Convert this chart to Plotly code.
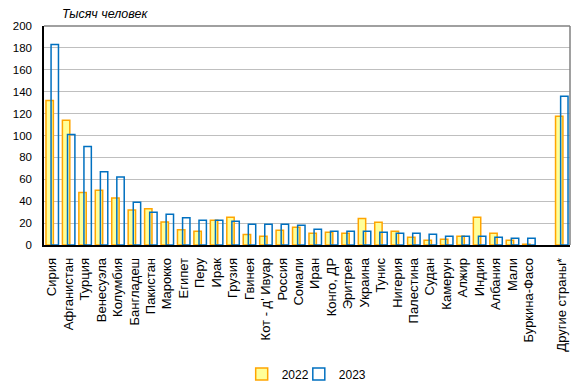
import plotly.graph_objects as go

categories = ["Сирия", "Афганистан", "Турция", "Венесуэла", "Колумбия", "Бангладеш",
              "Пакистан", "Марокко", "Египет", "Перу", "Ирак", "Грузия", "Гвинея",
              "Кот - д' Ивуар", "Россия", "Сомали", "Иран", "Конго, ДР", "Эритрея",
              "Украина", "Тунис", "Нигерия", "Палестина", "Судан", "Камерун", "Алжир",
              "Индия", "Албания", "Мали", "Буркина-Фасо", " ", "Другие страны*"]

values_2022 = [132, 114, 48, 50, 43, 32, 33, 21, 14, 12.5, 22.5, 25.3, 9.7, 7.9, 13.4,
               16.1, 10.7, 11.6, 10.7, 24.3, 20.7, 12.5, 7, 4.3, 5.2, 7.9, 25.3, 10.7,
               4.3, 0.7, None, 117.5]
values_2023 = [183, 101, 90, 67, 62, 39, 30, 28, 25, 22.5, 22.5, 21.6, 18.9, 19, 19,
               18, 14.3, 12.5, 12.5, 12.5, 11.6, 10.7, 10.7, 9.8, 7.9, 7.9, 7.9, 7,
               6.1, 6.1, None, 135.8]

y_ticks = list(range(0, 201, 20))

FONT = "Liberation Sans, Arial, sans-serif"

fig = go.Figure()
fig.add_trace(go.Bar(
    x=categories, y=values_2022, name="2022", legend="legend",
    width=0.45, offset=-0.38,
    marker=dict(color="#FFFF99", line=dict(color="#FFA500", width=1.5)),
))
fig.add_trace(go.Bar(
    x=categories, y=values_2023, name="2023", legend="legend2",
    width=0.45, offset=-0.07,
    marker=dict(color="rgba(0,0,0,0)", line=dict(color="#0070C0", width=1.5)),
))

legend_common = dict(orientation="h", xref="container", yref="container",
                     xanchor="left", y=0.047, yanchor="middle",
                     font=dict(size=12), bgcolor="rgba(0,0,0,0)")

fig.update_layout(
    width=577, height=384,
    barmode="overlay",
    paper_bgcolor="white", plot_bgcolor="white",
    margin=dict(l=36, r=15, t=18, b=147, autoexpand=False),
    font=dict(family=FONT, size=12, color="black"),
    showlegend=True,
    legend=dict(x=0.405, **legend_common),
    legend2=dict(x=0.504, **legend_common),
    xaxis=dict(type="category", tickangle=-90, showline=True, linecolor="black",
               linewidth=1.5, ticks="", showgrid=False, tickfont=dict(size=13),
               ticklabelstandoff=6),
    yaxis=dict(range=[0, 200], tickvals=y_ticks, showline=True, linecolor="black",
               linewidth=1.5, gridcolor="#BFBFBF", gridwidth=1, ticks="",
               tickfont=dict(size=11.5), zeroline=False, ticklabelstandoff=8),
    shapes=[
        dict(type="line", xref="paper", yref="paper", x0=0, x1=1, y0=1, y1=1,
             line=dict(color="#808080", width=1.5)),
        dict(type="line", xref="paper", yref="paper", x0=1, x1=1, y0=0, y1=1,
             line=dict(color="#808080", width=1.5)),
    ],
    annotations=[
        dict(text="<i>Тысяч человек</i>", xref="paper", yref="paper", x=0.03, y=1.0,
             xanchor="left", yanchor="bottom", yshift=3, showarrow=False,
             font=dict(size=12.5, color="black")),
    ],
)

fig.write_html("out.html")
